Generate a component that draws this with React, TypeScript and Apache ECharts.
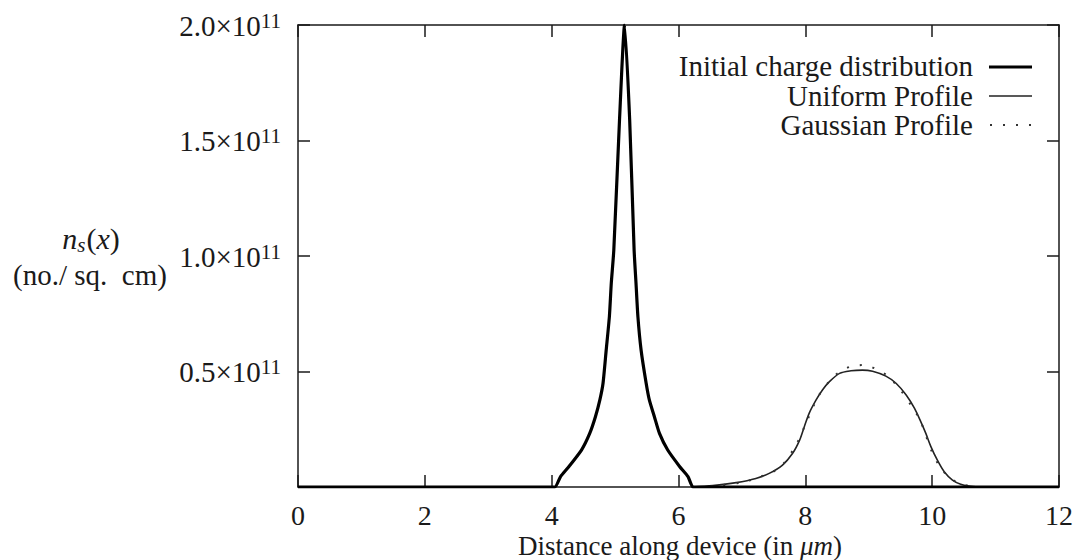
import React, { useEffect, useRef } from "react";
import * as echarts from "echarts";

// x in micrometres, y in units of 1e11 per sq. cm
const initialX = [0, 3.9, 4.05, 4.14, 4.27, 4.47, 4.6, 4.69, 4.76, 4.81, 4.86, 4.91, 4.94, 4.98, 5.07, 5.15, 5.23, 5.3, 5.33, 5.36, 5.41, 5.49, 5.54, 5.62, 5.7, 5.83, 6.02, 6.15, 6.23, 6.4, 12];
const initialY = [0, 0, 0, 0.045, 0.088, 0.16, 0.232, 0.304, 0.377, 0.449, 0.593, 0.737, 0.882, 1.026, 1.59, 2.0, 1.59, 1.026, 0.882, 0.737, 0.593, 0.449, 0.377, 0.304, 0.232, 0.16, 0.088, 0.045, 0, 0, 0];

const uniformX = [6.22, 6.54, 6.91, 7.22, 7.43, 7.64, 7.8, 7.91, 7.98, 8.06, 8.17, 8.27, 8.38, 8.54, 8.72, 8.9, 9.06, 9.27, 9.43, 9.59, 9.72, 9.82, 9.9, 9.98, 10.08, 10.19, 10.32, 10.45, 10.58, 10.74];
const uniformY = [0, 0.006, 0.019, 0.037, 0.059, 0.095, 0.146, 0.203, 0.258, 0.319, 0.377, 0.42, 0.456, 0.492, 0.503, 0.506, 0.501, 0.48, 0.449, 0.398, 0.341, 0.283, 0.232, 0.175, 0.117, 0.066, 0.03, 0.012, 0.004, 0];

const gaussianX = [6.3, 6.6, 7.0, 7.3, 7.6, 7.85, 8.0, 8.2, 8.4, 8.55, 8.72, 8.93, 9.12, 9.31, 9.5, 9.7, 9.81, 10.0, 10.14, 10.3, 10.5, 10.7];
const gaussianY = [0, 0.006, 0.02, 0.045, 0.085, 0.18, 0.27, 0.39, 0.465, 0.5, 0.522, 0.528, 0.51, 0.478, 0.42, 0.34, 0.29, 0.15, 0.081, 0.035, 0.01, 0];

const xTicks = [0, 2, 4, 6, 8, 10, 12];
const yTicks = [0, 0.5, 1.0, 1.5, 2.0];
const yExponent = "11";

const legendNames = ["Initial charge distribution", "Uniform Profile", "Gaussian Profile"];

const FONT = "'Liberation Serif', 'DejaVu Serif', serif";
const INK = "#1a1a1a";

function pairs(xs: number[], ys: number[]) {
  return xs.map((x, i) => [x, ys[i]]);
}

export default function App() {
  const ref = useRef<HTMLDivElement>(null);

  useEffect(() => {
    if (!ref.current) return;
    const chart = echarts.init(ref.current, undefined, { renderer: "svg" });

    const axisLine = { show: true, onZero: false, lineStyle: { color: INK, width: 1.5 } };
    const axisTick = { show: true, inside: true, length: 12, lineStyle: { color: INK, width: 1.5 } };

    const xBase = {
      type: "value" as const,
      min: xTicks[0],
      max: xTicks[xTicks.length - 1],
      interval: xTicks[1] - xTicks[0],
      axisLine,
      axisTick,
      splitLine: { show: false },
    };
    const yBase = {
      type: "value" as const,
      min: yTicks[0],
      max: yTicks[yTicks.length - 1],
      interval: yTicks[1] - yTicks[0],
      axisLine,
      axisTick,
      splitLine: { show: false },
    };

    const option: any = {
      animation: false,
      backgroundColor: "#ffffff",
      grid: { left: 298, right: 16, top: 25, bottom: 73, containLabel: false },
      xAxis: [
        {
          ...xBase,
          position: "bottom",
          axisLabel: {
            show: true,
            margin: 14,
            fontFamily: FONT,
            fontSize: 28,
            lineHeight: 28,
            color: INK,
            showMinLabel: true,
            showMaxLabel: true,
          },
        },
        { ...xBase, position: "top", axisLabel: { show: false } },
      ],
      yAxis: [
        {
          ...yBase,
          position: "left",
          axisLabel: {
            show: true,
            margin: 17,
            color: INK,
            formatter: (v: number) => (v === 0 ? "" : `{b|${v.toFixed(1)}×10}{s|${yExponent}}`),
            rich: {
              b: { fontFamily: FONT, fontSize: 29, lineHeight: 30, padding: [10, 0, 0, 0], verticalAlign: "bottom", color: INK },
              s: { fontFamily: FONT, fontSize: 21, lineHeight: 22, verticalAlign: "top", color: INK },
            },
          },
        },
        { ...yBase, position: "right", axisLabel: { show: false } },
      ],
      series: [
        {
          name: legendNames[0],
          type: "line",
          xAxisIndex: 0,
          yAxisIndex: 0,
          data: pairs(initialX, initialY),
          showSymbol: false,
          symbol: "none",
          smooth: 0.2,
          lineStyle: { color: "#000", width: 3.2, join: "round" },
          z: 3,
        },
        {
          name: legendNames[1],
          type: "line",
          xAxisIndex: 0,
          yAxisIndex: 0,
          data: pairs(uniformX, uniformY),
          showSymbol: false,
          symbol: "none",
          smooth: 0.3,
          lineStyle: { color: "#222", width: 1.6 },
          z: 2,
        },
        {
          name: legendNames[2],
          type: "line",
          xAxisIndex: 0,
          yAxisIndex: 0,
          data: pairs(gaussianX, gaussianY),
          showSymbol: false,
          symbol: "none",
          smooth: 0.3,
          lineStyle: { color: "#333", width: 2, type: [2, 11] },
          z: 2,
        },
      ],
      graphic: [
        {
          type: "text",
          x: 973,
          y: 66,
          style: { text: legendNames[0], align: "right", verticalAlign: "middle", fontFamily: FONT, fontSize: 29, fill: INK },
        },
        {
          type: "text",
          x: 973,
          y: 96,
          style: { text: legendNames[1], align: "right", verticalAlign: "middle", fontFamily: FONT, fontSize: 29, fill: INK },
        },
        {
          type: "text",
          x: 973,
          y: 125,
          style: { text: legendNames[2], align: "right", verticalAlign: "middle", fontFamily: FONT, fontSize: 29, fill: INK },
        },
        { type: "line", shape: { x1: 989, y1: 67, x2: 1032, y2: 67 }, style: { stroke: "#000", lineWidth: 3.2 } },
        { type: "line", shape: { x1: 989, y1: 96, x2: 1032, y2: 96 }, style: { stroke: "#222", lineWidth: 1.6 } },
        {
          type: "line",
          shape: { x1: 990, y1: 125, x2: 1032, y2: 125 },
          style: { stroke: "#333", lineWidth: 2, lineDash: [2, 11] },
        },
        {
          type: "text",
          x: 91,
          y: 239,
          style: {
            text: "{i|n}{sub|s}{r|(}{i|x}{r|)}",
            align: "center",
            verticalAlign: "middle",
            fill: INK,
            rich: {
              i: { fontFamily: FONT, fontStyle: "italic", fontSize: 30, lineHeight: 32, verticalAlign: "top", fill: INK },
              r: { fontFamily: FONT, fontSize: 30, lineHeight: 32, verticalAlign: "top", fill: INK },
              sub: { fontFamily: FONT, fontStyle: "italic", fontSize: 21, lineHeight: 22, padding: [16, 1, 0, 0], verticalAlign: "bottom", fill: INK },
            },
          },
        },
        {
          type: "text",
          x: 90,
          y: 275,
          style: { text: "(no./ sq.  cm)", align: "center", verticalAlign: "middle", fontFamily: FONT, fontSize: 29, fill: INK },
        },
        {
          type: "text",
          x: 680,
          y: 546,
          style: {
            text: "{r|Distance along device (in }{i|μm}{r|)}",
            align: "center",
            verticalAlign: "middle",
            fill: INK,
            rich: {
              r: { fontFamily: FONT, fontSize: 27, lineHeight: 26, fill: INK },
              i: { fontFamily: FONT, fontStyle: "italic", fontSize: 27, lineHeight: 26, fill: INK },
            },
          },
        },
      ],
    };

    chart.setOption(option);
    return () => chart.dispose();
  }, []);

  return <div ref={ref} style={{ position: "fixed", left: 0, top: 0, width: 1076, height: 560 }} />;
}
